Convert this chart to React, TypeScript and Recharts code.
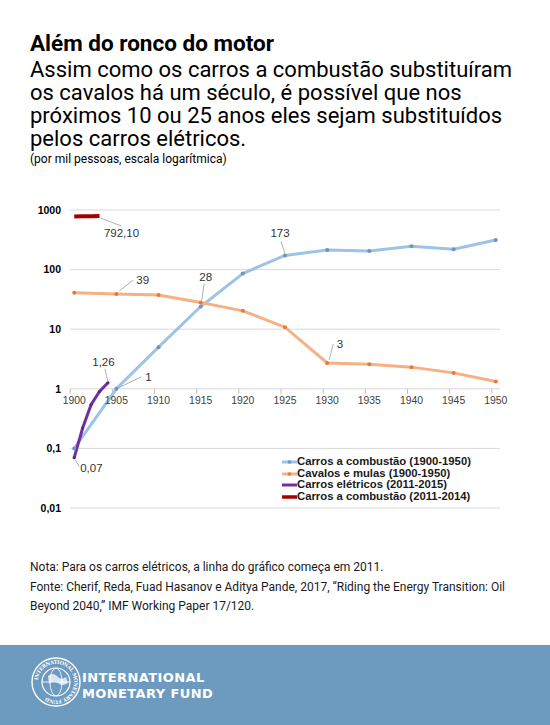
import React from 'react';
import { LineChart, Line, XAxis, YAxis, CartesianGrid, ReferenceDot, LabelList, Legend } from 'recharts';

// ---------- DATA ----------
const anos = [1900, 1905, 1910, 1915, 1920, 1925, 1930, 1935, 1940, 1945, 1950];
const carrosCombustao = [0.1, 1, 5, 24, 86, 173, 214, 205, 246, 219, 314];
const cavalosMulas = [41, 39, 37.5, 28, 20.3, 10.8, 2.72, 2.59, 2.31, 1.85, 1.33];
const anosEletricos = [2011, 2012, 2013, 2014, 2015];
const carrosEletricos = [0.07, 0.22, 0.54, 0.9, 1.26];
const anosCombustaoRecente = [2011, 2012, 2013, 2014];
const carrosCombustaoRecente = [780, 784, 788, 792.1];
const yTicks = [0.01, 0.1, 1, 10, 100, 1000];
const xTicks = anos;
const nomesSeries = [
  'Carros a combustão (1900-1950)',
  'Cavalos e mulas (1900-1950)',
  'Carros elétricos (2011-2015)',
  'Carros a combustão (2011-2014)',
];
// recent series are drawn starting at 1900 (2011 -> 1900)
const DESLOCAMENTO = 111;

const rotulosCombustao: Record<number, string> = { 1: '1', 5: '173' };
const rotulosCavalos: Record<number, string> = { 1: '39', 3: '28', 6: '3' };
const rotulosEletricos: Record<number, string> = { 0: '0,07', 4: '1,26' };
const rotulosRecente: Record<number, string> = { 3: '792,10' };

// ---------- STYLE ----------
const cores = ['#9dc3e6', '#f4b183', '#7030a0', '#a50000'];
const coresPontos = ['#6a93c6', '#e8793b', '#5a2585', '#a50000'];
const FONTE = '"Liberation Sans", Arial, sans-serif';

type Pos = { tx: number; ty: number; anchor: 'start' | 'middle' | 'end'; l: [number, number, number, number] };
const posRotulos: Record<string, Pos> = {
  'combustao-1': { tx: 29, ty: -8, anchor: 'start', l: [2, -1, 25, -12] },
  'combustao-5': { tx: -5, ty: -18, anchor: 'middle', l: [0, -2, -4, -14] },
  'cavalos-1': { tx: 20, ty: -10, anchor: 'start', l: [3, -3, 17, -14] },
  'cavalos-3': { tx: 5, ty: -22, anchor: 'middle', l: [1, -2, 3.5, -19] },
  'cavalos-6': { tx: 9.5, ty: -15, anchor: 'start', l: [2, -3, 6, -19] },
  'eletricos-0': { tx: 6, ty: 14, anchor: 'start', l: [1, 2, 5, 9] },
  'eletricos-4': { tx: -4.5, ty: -17, anchor: 'middle', l: [0, -1, -3, -14] },
  'recente-3': { tx: 22, ty: 21, anchor: 'middle', l: [1, 2, 22, 10] },
};

const dadosCombustao = anos.map((a, i) => ({ ano: a, valor: carrosCombustao[i] }));
const dadosCavalos = anos.map((a, i) => ({ ano: a, valor: cavalosMulas[i] }));
const dadosEletricos = anosEletricos.map((a, i) => ({ ano: a - DESLOCAMENTO, valor: carrosEletricos[i] }));
const dadosRecente = anosCombustaoRecente.map((a, i) => ({ ano: a - DESLOCAMENTO, valor: carrosCombustaoRecente[i] }));

const fmt = (v: number) => String(v).replace('.', ',');

const makeRotulo = (serie: string, rotulos: Record<number, string>) => (props: any) => {
  const index = props.index;
  const texto = rotulos[index];
  if (texto === undefined) return null;
  const x = props.x ?? props.viewBox?.x;
  const y = props.y ?? props.viewBox?.y;
  if (x == null || y == null) return null;
  const p = posRotulos[`${serie}-${index}`];
  return (
    <g key={`${serie}-${index}`}>
      <line x1={x + p.l[0]} y1={y + p.l[1]} x2={x + p.l[2]} y2={y + p.l[3]} stroke="#9a9a9a" strokeWidth={0.8} />
      <text x={x + p.tx} y={y + p.ty} textAnchor={p.anchor} fontFamily={FONTE} fontSize={11.5} fill="#333">
        {texto}
      </text>
    </g>
  );
};

const Pontos = (cor: string, r: number) => (props: any) => {
  const { cx, cy, index } = props;
  if (cx == null || cy == null) return <g key={index} />;
  return <circle key={index} cx={cx} cy={cy} r={r} fill={cor} stroke="none" />;
};

const TickX = (ano: number) => (props: any) => {
  const { cx, cy } = props;
  if (cx == null || cy == null) return <g />;
  return (
    <g>
      <line x1={cx - 4} y1={cy} x2={cx - 4} y2={cy + 5} stroke="#bfbfbf" strokeWidth={1} />
      <text x={cx} y={cy + 15.5} textAnchor="middle" fontFamily={FONTE} fontSize={10.4} fill="#404040">
        {ano}
      </text>
    </g>
  );
};

const Legenda = () => (
  <div style={{ fontFamily: FONTE, fontWeight: 'bold', fontSize: 11.3, color: '#1a1a1a' }}>
    {nomesSeries.map((n, i) => (
      <div key={n} style={{ display: 'flex', alignItems: 'center', height: 11.5, lineHeight: '11.5px', whiteSpace: 'nowrap' }}>
        <svg width={15} height={11.5} style={{ display: 'block' }}>
          <line x1={0} y1={6} x2={15} y2={6} stroke={cores[i]} strokeWidth={i === 3 ? 3.5 : 3} />
          {i < 2 && <circle cx={7.5} cy={6} r={1.8} fill={coresPontos[i]} />}
        </svg>
        <span>{n}</span>
      </div>
    ))}
  </div>
);

const Selo = () => (
  <svg width={60} height={60} style={{ position: 'absolute', left: 25.5, top: 7 }}>
    <defs>
      <path id="arcoSelo" d="M 30 30 m -20 0 a 20 20 0 1 1 40 0 a 20 20 0 1 1 -40 0" />
    </defs>
    <circle cx={30} cy={30} r={24} fill="none" stroke="#ffffff" strokeWidth={1.4} />
    <circle cx={30} cy={30} r={14} fill="none" stroke="#ffffff" strokeWidth={1.2} />
    <ellipse cx={30} cy={30} rx={6} ry={14} fill="none" stroke="#ffffff" strokeWidth={0.8} />
    <line x1={16} y1={30} x2={44} y2={30} stroke="#ffffff" strokeWidth={0.8} />
    <path d="M 22 24 q 5 -4 9 0 q 4 5 9 1 l 2 6 q -6 4 -10 0 q -5 -3 -9 1 z" fill="#ffffff" opacity={0.75} />
    <text fontFamily="DejaVu Serif, serif" fontSize={5} fill="#ffffff" fontWeight="bold" dy={1.8}>
      <textPath href="#arcoSelo" startOffset="2">INTERNATIONAL MONETARY FUND</textPath>
    </text>
  </svg>
);

export default function App() {
  return (
    <div style={{ position: 'absolute', left: 0, top: 0, width: 550, height: 725, background: '#ffffff', overflow: 'hidden' }}>
      <div style={{ position: 'absolute', left: 30, top: 31.5, fontFamily: 'Roboto, sans-serif', fontWeight: 'bold', fontSize: 22.5, lineHeight: '22px', color: '#000', whiteSpace: 'nowrap' }}>
        Além do ronco do motor
      </div>
      <div style={{ position: 'absolute', left: 30, top: 57.5, fontFamily: 'Roboto, sans-serif', fontSize: 22, lineHeight: '23px', color: '#000', whiteSpace: 'nowrap' }}>
        <div>Assim como os carros a combustão substituíram</div>
        <div>os cavalos há um século, é possível que nos</div>
        <div>próximos 10 ou 25 anos eles sejam substituídos</div>
        <div>pelos carros elétricos.</div>
      </div>
      <div style={{ position: 'absolute', left: 30, top: 151.5, fontFamily: 'Roboto, sans-serif', fontSize: 12, lineHeight: '14px', color: '#000', whiteSpace: 'nowrap' }}>
        (por mil pessoas, escala logarítmica)
      </div>

      <div style={{ position: 'absolute', left: 0, top: 190 }}>
        <LineChart width={550} height={340} margin={{ top: 20, right: 50, bottom: 22, left: 0 }}>
          <CartesianGrid horizontal={true} vertical={false} stroke="#d9d9d9" strokeWidth={1} />
          <XAxis dataKey="ano" type="number" domain={[1899.5, 1950.5]} ticks={xTicks} hide allowDataOverflow />
          <YAxis
            type="number"
            scale="log"
            domain={[0.01, 1000]}
            ticks={yTicks}
            allowDataOverflow
            width={70}
            axisLine={false}
            tickLine={false}
            tickSize={0}
            tickMargin={9}
            tickFormatter={fmt}
            tick={{ fontFamily: FONTE, fontSize: 10.5, fontWeight: 'bold', fill: '#000' }}
          />
          {xTicks.map((a) => (
            <ReferenceDot key={a} x={a} y={1} r={0} shape={TickX(a)} ifOverflow="visible" />
          ))}
          <Line
            data={dadosCombustao}
            dataKey="valor"
            name={nomesSeries[0]}
            stroke={cores[0]}
            strokeWidth={3}
            dot={Pontos(coresPontos[0], 2)}
            activeDot={false}
            isAnimationActive={false}
          >
            <LabelList dataKey="valor" content={makeRotulo('combustao', rotulosCombustao)} />
          </Line>
          <Line
            data={dadosCavalos}
            dataKey="valor"
            name={nomesSeries[1]}
            stroke={cores[1]}
            strokeWidth={3}
            dot={Pontos(coresPontos[1], 2)}
            activeDot={false}
            isAnimationActive={false}
          >
            <LabelList dataKey="valor" content={makeRotulo('cavalos', rotulosCavalos)} />
          </Line>
          <Line
            data={dadosEletricos}
            dataKey="valor"
            name={nomesSeries[2]}
            stroke={cores[2]}
            strokeWidth={3}
            dot={Pontos(coresPontos[2], 1.6)}
            activeDot={false}
            isAnimationActive={false}
          >
            <LabelList dataKey="valor" content={makeRotulo('eletricos', rotulosEletricos)} />
          </Line>
          <Line
            data={dadosRecente}
            dataKey="valor"
            name={nomesSeries[3]}
            stroke={cores[3]}
            strokeWidth={4}
            dot={false}
            activeDot={false}
            isAnimationActive={false}
          >
            <LabelList dataKey="valor" content={makeRotulo('recente', rotulosRecente)} />
          </Line>
          <Legend
            layout="vertical"
            align="center"
            verticalAlign="middle"
            content={Legenda}
            wrapperStyle={{ left: 282, top: 266, width: 230, height: 48 }}
          />
        </LineChart>
      </div>

      <div style={{ position: 'absolute', left: 30, top: 558, fontFamily: 'Roboto, sans-serif', fontSize: 12, lineHeight: '19.5px', color: '#1a1a1a', whiteSpace: 'nowrap' }}>
        <div>Nota: Para os carros elétricos, a linha do gráfico começa em 2011.</div>
        <div>Fonte: Cherif, Reda, Fuad Hasanov e Aditya Pande, 2017, “Riding the Energy Transition: Oil</div>
        <div>Beyond 2040,” IMF Working Paper 17/120.</div>
      </div>

      <div style={{ position: 'absolute', left: 0, top: 645, width: 550, height: 80, background: '#6d9bc0' }}>
        <Selo />
        <div style={{ position: 'absolute', left: 82, top: 25, fontFamily: '"DejaVu Sans", sans-serif', fontWeight: 'bold', fontSize: 13, lineHeight: '16px', letterSpacing: 0.4, color: '#ffffff', whiteSpace: 'nowrap' }}>
          <div>INTERNATIONAL</div>
          <div>MONETARY FUND</div>
        </div>
      </div>
    </div>
  );
}
